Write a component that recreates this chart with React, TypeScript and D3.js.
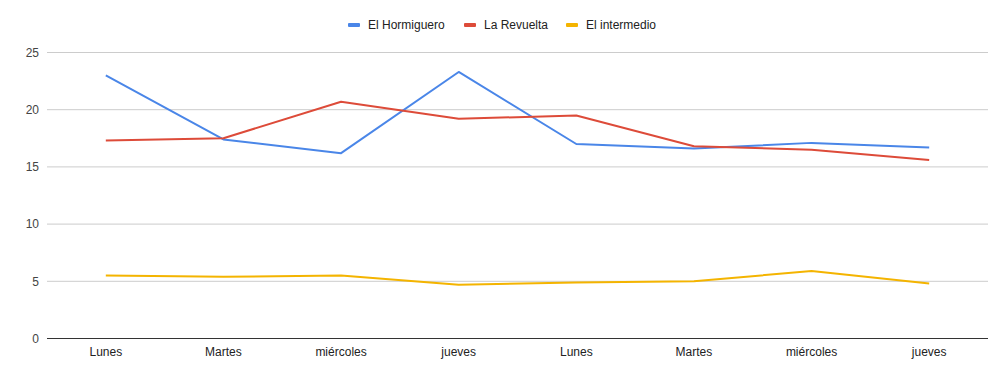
import React from "react";
import * as d3 from "d3";

const categories = ["Lunes", "Martes", "miércoles", "jueves", "Lunes", "Martes", "miércoles", "jueves"];
const hormiguero = [23.0, 17.4, 16.2, 23.3, 17.0, 16.6, 17.1, 16.7];
const revuelta = [17.3, 17.5, 20.7, 19.2, 19.5, 16.8, 16.5, 15.6];
const intermedio = [5.5, 5.4, 5.5, 4.7, 4.9, 5.0, 5.9, 4.8];
const yTicks = [0, 5, 10, 15, 20, 25];

const seriesNames = ["El Hormiguero", "La Revuelta", "El intermedio"];
const seriesColors = ["#4a86e8", "#dd4b39", "#f4b400"];
const seriesData = [hormiguero, revuelta, intermedio];

export default function App() {
  const W = 1008, H = 378;
  const left = 47, right = 988, top = 52.5, bottom = 338.5;
  const idx = categories.map((_, i) => String(i));
  const x = d3.scaleBand().domain(idx).range([left, right]);
  const y = d3.scaleLinear().domain([0, 25]).range([bottom, top]);
  const line = d3.line<number>()
    .x((_, i) => (x(String(i)) as number) + x.bandwidth() / 2)
    .y((d) => y(d));
  const font = "'Liberation Sans', Arial, sans-serif";
  const legendItems = [
    { x: 348, label: seriesNames[0], color: seriesColors[0] },
    { x: 464, label: seriesNames[1], color: seriesColors[1] },
    { x: 566, label: seriesNames[2], color: seriesColors[2] },
  ];
  return (
    <svg width={W} height={H} style={{ position: "absolute", left: 0, top: 0, background: "#fff" }} fontFamily={font}>
      <rect width={W} height={H} fill="#fff" />
      {yTicks.map((t) => (
        <g key={t}>
          <line x1={left} x2={right} y1={y(t)} y2={y(t)} stroke={t === 0 ? "#333" : "#cccccc"} strokeWidth={1} />
          <text x={39} y={y(t)} dy="0.35em" textAnchor="end" fontSize={12} fill="#444">{t}</text>
        </g>
      ))}
      {categories.map((c, i) => (
        <text key={i} x={(x(String(i)) as number) + x.bandwidth() / 2} y={356} textAnchor="middle" fontSize={12} fill="#222">{c}</text>
      ))}
      {seriesData.map((s, k) => (
        <path key={k} d={line(s) || ""} fill="none" stroke={seriesColors[k]} strokeWidth={2} strokeLinejoin="round" />
      ))}
      {legendItems.map((l, k) => (
        <g key={k}>
          <rect x={l.x} y={23} width={12} height={4} rx={1} fill={l.color} />
          <text x={l.x + 20} y={25} dy="0.35em" fontSize={12} fill="#222">{l.label}</text>
        </g>
      ))}
    </svg>
  );
}
